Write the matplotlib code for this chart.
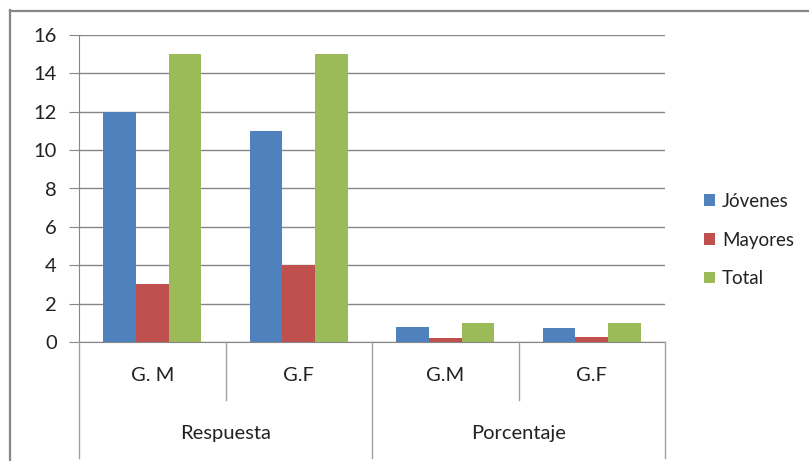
import matplotlib
matplotlib.use('Agg')
import matplotlib.pyplot as plt
import numpy as np
from matplotlib.lines import Line2D

plt.rcParams['font.family'] = ['Lato', 'DejaVu Sans']

groups = ['Respuesta', 'Porcentaje']
subcats = ['G. M', 'G.F', 'G.M', 'G.F']
series = ['Jóvenes', 'Mayores', 'Total']
jovenes = [12, 11, 0.8, 0.73]
mayores = [3, 4, 0.2, 0.27]
total = [15, 15, 1.0, 1.0]
colors = ['#4f81bd', '#c0504d', '#9bbb59']

W, H = 809, 461
FS = 14.5
TXT = '#222222'
fig = plt.figure(figsize=(W / 100, H / 100), dpi=100)

# outer chart border (Excel chart area)
fig.add_artist(Line2D([10 / W, 10 / W], [0, 1 - 10 / H], color='#868686', lw=1.6))
fig.add_artist(Line2D([10 / W, 1], [1 - 11 / H, 1 - 11 / H], color='#868686', lw=1.6))

x0, x1, y0, y1 = 79, 665, 342, 35
ax = fig.add_axes((x0 / W, 1 - y0 / H, (x1 - x0) / W, (y0 - y1) / H))

n = len(subcats)
x = np.arange(n)
bw = 1 / 4.5
for i, (vals, c, lab) in enumerate(zip([jovenes, mayores, total], colors, series)):
    ax.bar(x + (i - 1) * bw, vals, width=bw, color=c, label=lab, zorder=3)

ax.set_xlim(-0.5, n - 0.5)
ax.set_ylim(0, 16)
ax.set_yticks(range(0, 17, 2))
ax.grid(axis='y', color='#868686', lw=1.0, zorder=0)
for s in ['top', 'right']:
    ax.spines[s].set_visible(False)
ax.spines['left'].set_color('#868686')
ax.spines['bottom'].set_color('#868686')
ax.tick_params(axis='y', length=7, color='#868686', labelsize=FS, pad=9)
for t in ax.get_yticklabels():
    t.set_color(TXT)
ax.set_xticks([])

# multi-level category axis
def fy(py):
    return 1 - py / H

def fx(px):
    return px / W

cat_w = (x1 - x0) / n
for k in range(n + 1):
    px = x0 + k * cat_w
    bottom = 458 if k % 2 == 0 else 400
    fig.add_artist(Line2D([fx(px), fx(px)], [fy(y0), fy(bottom)], color='#a0a0a0', lw=1.0))
for k, lab in enumerate(subcats):
    fig.text(fx(x0 + (k + 0.5) * cat_w), fy(375), lab, ha='center', va='center',
             fontsize=FS, color=TXT)
for g, lab in enumerate(groups):
    fig.text(fx(x0 + (2 * g + 1) * cat_w), fy(433), lab, ha='center', va='center',
             fontsize=FS, color=TXT)

ax.legend(loc='center left', bbox_to_anchor=(fx(704), fy(240)), bbox_transform=fig.transFigure,
          frameon=False, fontsize=13.5, handlelength=0.6, handleheight=0.6,
          handletextpad=0.35, labelspacing=1.15, labelcolor=TXT,
          borderpad=0, borderaxespad=0)

fig.savefig('out.png', dpi=100, facecolor='white')
